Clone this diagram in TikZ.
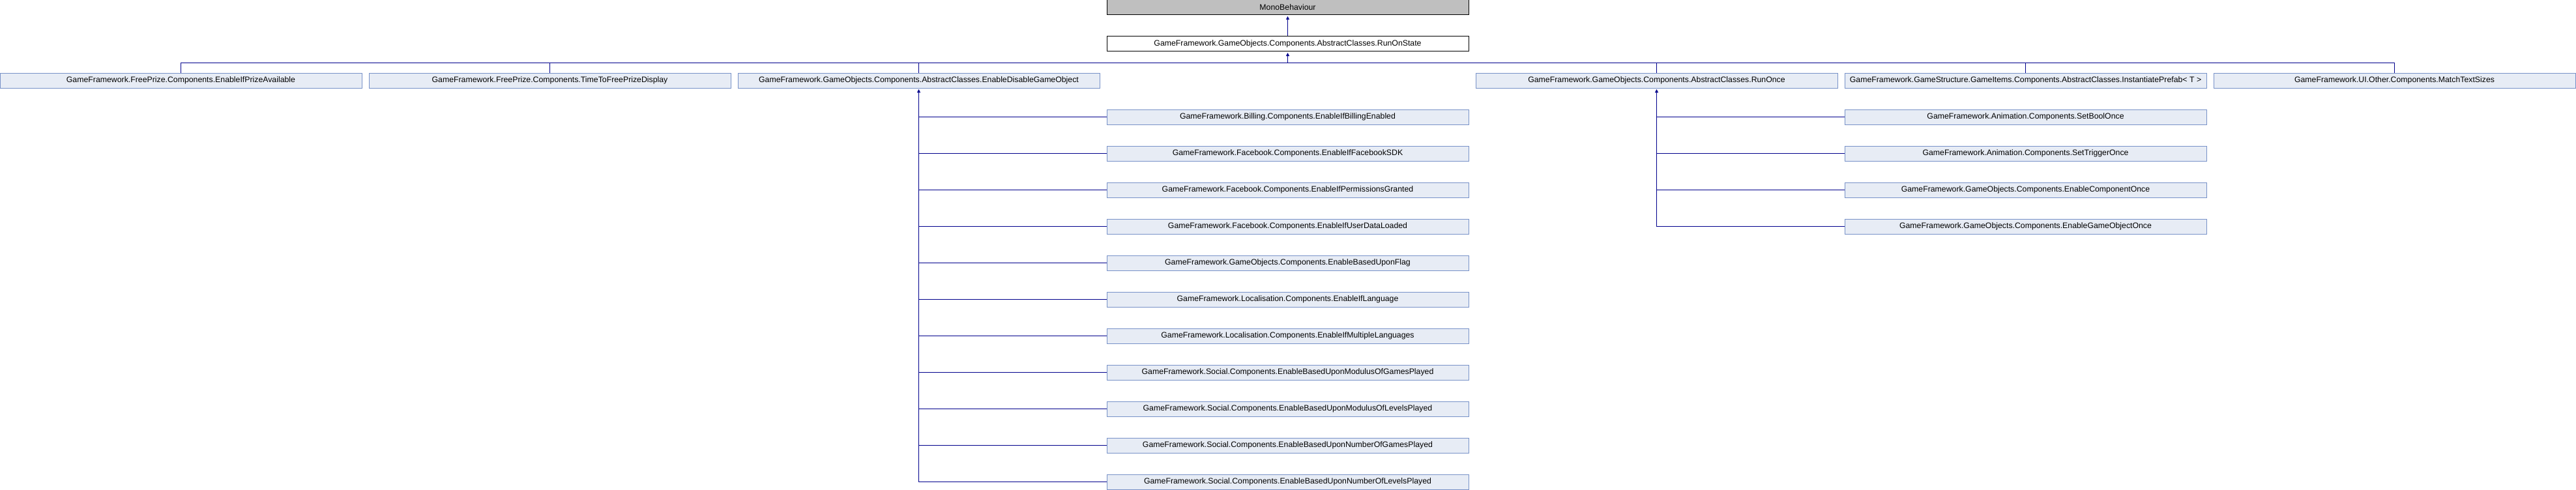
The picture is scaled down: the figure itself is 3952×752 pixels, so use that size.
\documentclass[tikz,border=0pt]{standalone}
\usepackage{fontspec}
\setmainfont{Liberation Sans}
\usetikzlibrary{
	arrows.meta,
}
\definecolor{edgeblue}{RGB}{0,0,140}
\definecolor{boxline}{RGB}{120,146,200}
\definecolor{boxfill}{RGB}{231,236,245}
\definecolor{basefill}{RGB}{191,191,191}

\begin{document}
\begin{tikzpicture}[x=1pt,y=-1pt]
		\tikzstyle{every node}+=[inner sep=0pt]
		\tikzstyle{cls}=[draw=boxline, fill=boxfill, line width=1pt, minimum width=555pt, minimum height=23pt, font=\fontsize{12.3}{14}\selectfont]
		\tikzstyle{basecls}=[cls, draw=black, fill=basefill]
		\tikzstyle{curcls}=[cls, draw=black, fill=white]
		\tikzstyle{edge}=[draw=edgeblue, line width=1pt]
		\tikzstyle{inh}=[edge, -{Triangle[width=5pt,length=5pt]}, shorten >=1.5pt]
		\useasboundingbox (0,0) rectangle (3952,752);
		\node [basecls] (mono) at (1975.5,11.5) {MonoBehaviour};
		\node [curcls] (runonstate) at (1975.5,67.5) {GameFramework.GameObjects.Components.AbstractClasses.RunOnState};
		\node [cls] (prizeavail) at (277.5,123.5) {GameFramework.FreePrize.Components.EnableIfPrizeAvailable};
		\node [cls] (freeprizedisp) at (843.5,123.5) {GameFramework.FreePrize.Components.TimeToFreePrizeDisplay};
		\node [cls] (enabledisable) at (1409.5,123.5) {GameFramework.GameObjects.Components.AbstractClasses.EnableDisableGameObject};
		\node [cls] (runonce) at (2541.5,123.5) {GameFramework.GameObjects.Components.AbstractClasses.RunOnce};
		\node [cls] (instprefab) at (3107.5,123.5) {GameFramework.GameStructure.GameItems.Components.AbstractClasses.InstantiatePrefab< T >};
		\node [cls] (matchtext) at (3673.5,123.5) {GameFramework.UI.Other.Components.MatchTextSizes};
		\node [cls] (billing) at (1975.5,179.5) {GameFramework.Billing.Components.EnableIfBillingEnabled};
		\node [cls] (fbsdk) at (1975.5,235.5) {GameFramework.Facebook.Components.EnableIfFacebookSDK};
		\node [cls] (fbperm) at (1975.5,291.5) {GameFramework.Facebook.Components.EnableIfPermissionsGranted};
		\node [cls] (fbuser) at (1975.5,347.5) {GameFramework.Facebook.Components.EnableIfUserDataLoaded};
		\node [cls] (uponflag) at (1975.5,403.5) {GameFramework.GameObjects.Components.EnableBasedUponFlag};
		\node [cls] (language) at (1975.5,459.5) {GameFramework.Localisation.Components.EnableIfLanguage};
		\node [cls] (multilang) at (1975.5,515.5) {GameFramework.Localisation.Components.EnableIfMultipleLanguages};
		\node [cls] (modgames) at (1975.5,571.5) {GameFramework.Social.Components.EnableBasedUponModulusOfGamesPlayed};
		\node [cls] (modlevels) at (1975.5,627.5) {GameFramework.Social.Components.EnableBasedUponModulusOfLevelsPlayed};
		\node [cls] (numgames) at (1975.5,683.5) {GameFramework.Social.Components.EnableBasedUponNumberOfGamesPlayed};
		\node [cls] (numlevels) at (1975.5,739.5) {GameFramework.Social.Components.EnableBasedUponNumberOfLevelsPlayed};
		\node [cls] (setbool) at (3107.5,179.5) {GameFramework.Animation.Components.SetBoolOnce};
		\node [cls] (settrigger) at (3107.5,235.5) {GameFramework.Animation.Components.SetTriggerOnce};
		\node [cls] (compOnce) at (3107.5,291.5) {GameFramework.GameObjects.Components.EnableComponentOnce};
		\node [cls] (goOnce) at (3107.5,347.5) {GameFramework.GameObjects.Components.EnableGameObjectOnce};
		\coordinate (bus) at (1975.5,96);
		\draw [inh] (runonstate) -- (mono);
		\draw [inh] (bus) -- (runonstate);
		\draw [edge] (prizeavail.north) -- (prizeavail.north |- bus) -- (matchtext.north |- bus) -- (matchtext.north);
		\draw [edge] (freeprizedisp.north) -- (freeprizedisp.north |- bus);
		\draw [edge] (enabledisable.north) -- (enabledisable.north |- bus);
		\draw [edge] (runonce.north) -- (runonce.north |- bus);
		\draw [edge] (instprefab.north) -- (instprefab.north |- bus);
		\draw [inh] (numlevels.west) -| (enabledisable.south);
		\draw [edge] (billing.west) -- (billing.west -| enabledisable.south);
		\draw [edge] (fbsdk.west) -- (fbsdk.west -| enabledisable.south);
		\draw [edge] (fbperm.west) -- (fbperm.west -| enabledisable.south);
		\draw [edge] (fbuser.west) -- (fbuser.west -| enabledisable.south);
		\draw [edge] (uponflag.west) -- (uponflag.west -| enabledisable.south);
		\draw [edge] (language.west) -- (language.west -| enabledisable.south);
		\draw [edge] (multilang.west) -- (multilang.west -| enabledisable.south);
		\draw [edge] (modgames.west) -- (modgames.west -| enabledisable.south);
		\draw [edge] (modlevels.west) -- (modlevels.west -| enabledisable.south);
		\draw [edge] (numgames.west) -- (numgames.west -| enabledisable.south);
		\draw [inh] (goOnce.west) -| (runonce.south);
		\draw [edge] (setbool.west) -- (setbool.west -| runonce.south);
		\draw [edge] (settrigger.west) -- (settrigger.west -| runonce.south);
		\draw [edge] (compOnce.west) -- (compOnce.west -| runonce.south);
		\end{tikzpicture}
\end{document}
